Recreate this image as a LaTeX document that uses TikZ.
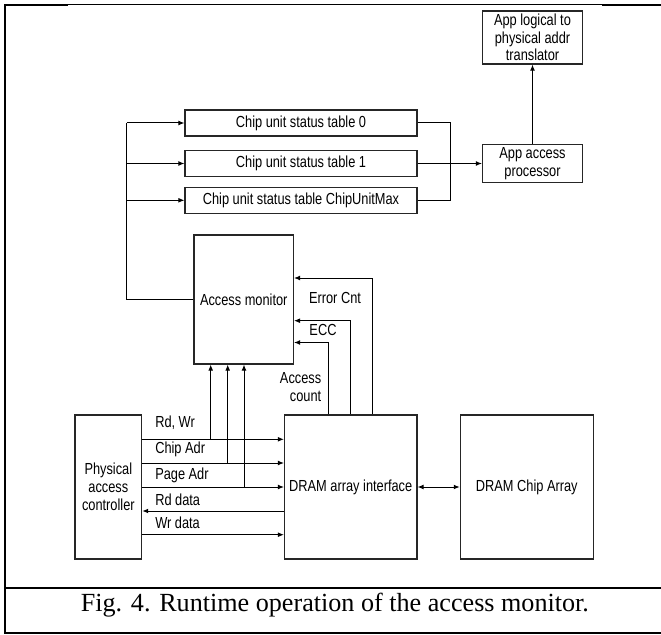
\documentclass[tikz,border=0pt]{standalone}
\usepackage{fontspec}
\setmainfont{Liberation Serif}
\newfontfamily\lblfont[FakeStretch=0.8]{Liberation Sans}
\usetikzlibrary{arrows.meta}

\begin{document}
\begin{tikzpicture}[x=0.75pt, y=-0.75pt,
  box/.style={draw=black!85, line width=0.8pt, rectangle, inner sep=0pt,
              align=center, font=\lblfont\fontsize{12}{13.3}\selectfont},
  wire/.style={draw=black, line width=0.75pt},
  arr/.style={wire, -{Latex[length=4.5pt,width=3.6pt]}},
  biarr/.style={wire, {Latex[length=4.5pt,width=3.6pt]}-{Latex[length=4.5pt,width=3.6pt]}},
  lbl/.style={inner sep=0pt, font=\lblfont\fontsize{12}{13.3}\selectfont},
  frame/.style={draw=black, line width=1.5pt},
  thinframe/.style={draw=black, line width=0.75pt}
]
\useasboundingbox (0,0) rectangle (661,635);

% outer frame and caption band
\draw[thinframe] (4.7,5) -- (661,5);
\draw[frame] (4.7,5) -- (68,5);
\draw[frame] (602,5) -- (661,5);
\draw[frame, line cap=rect] (4.7,5) -- (4.7,633) -- (661,633);
\draw[frame] (4.7,588) -- (661,588);
\node[anchor=base, inner sep=0pt, font=\fontsize{19.6}{22}\selectfont] (cap) at (334.9,611.7)
  {Fig. 4. Runtime operation of the access monitor.};

% blocks
\node[box, minimum width=75pt, minimum height=39.75pt] (trans) at (532.5,37.5)
  {App logical to\\physical addr\\translator};
\node[box, minimum width=75pt, minimum height=28.5pt] (proc) at (532.5,163.5)
  {App access\\processor};
\node[box, minimum width=174pt, minimum height=19.5pt] (t0) at (301,123) {Chip unit status table 0};
\node[box, minimum width=174pt, minimum height=19.5pt] (t1) at (301,163.5) {Chip unit status table 1};
\node[box, minimum width=174pt, minimum height=19.5pt] (tmax) at (301,200.3) {Chip unit status table ChipUnitMax};
\node[box, minimum width=74.6pt, minimum height=96.75pt] (mon) at (243.75,299.5) {Access monitor};
\node[box, minimum width=99.4pt, minimum height=108pt] (dif) at (350.75,487) {DRAM array interface};
\node[box, minimum width=99.75pt, minimum height=108pt] (chip) at (526.8,487) {DRAM Chip Array};
\node[box, minimum width=50pt, minimum height=108pt] (pac) at (108.35,487)
  {Physical\\access\\controller};

% status tables fan-out from the access monitor
\coordinate (busTop) at (126.5,123);
\draw[wire] (mon.west) -| (busTop);
\draw[arr] (busTop) -- (t0.west);
\draw[arr] (t1.west -| busTop) -- (t1.west);
\draw[arr] (tmax.west -| busTop) -- (tmax.west);

% tables merge into the access processor
\coordinate (merge) at (450,163.5);
\draw[wire] (t0.east) -| (merge);
\draw[wire] (tmax.east) -| (merge);
\draw[arr] (t1.east) -- (proc.west);
\draw[arr] (proc.north) -- (trans.south);

% feedback from the DRAM array interface
\coordinate (errc) at (372.5,278);
\coordinate (ecc) at (350.3,320.7);
\coordinate (acnt) at (328.7,342.5);
\draw[arr] (errc |- dif.north) |- (mon.east |- errc);
\draw[arr] (ecc |- dif.north) |- (mon.east |- ecc);
\draw[arr] (acnt |- dif.north) |- (mon.east |- acnt);
\node[lbl] (lerr) at (335,298) {Error Cnt};
\node[lbl] (lecc) at (323,330) {ECC};
\node[lbl, align=right, anchor=east] (lcnt) at (321.5,387) {Access\\count};

% controller to interface signals
\coordinate (s1) at (0,439.3);
\coordinate (s2) at (0,463);
\coordinate (s3) at (0,487);
\coordinate (s4) at (0,511);
\coordinate (s5) at (0,534.7);
\draw[arr] (pac.east |- s1) -- (dif.west |- s1);
\draw[arr] (pac.east |- s2) -- (dif.west |- s2);
\draw[arr] (pac.east |- s3) -- (dif.west |- s3);
\draw[arr] (dif.west |- s4) -- (pac.east |- s4);
\draw[arr] (pac.east |- s5) -- (dif.west |- s5);
\node[lbl, anchor=west] (lrw) at (155,422.7) {Rd, Wr};
\node[lbl, anchor=west] (lca) at (155,449) {Chip Adr};
\node[lbl, anchor=west] (lpa) at (155,475) {Page Adr};
\node[lbl, anchor=west] (lrd) at (155,499.3) {Rd data};
\node[lbl, anchor=west] (lwd) at (155,522.7) {Wr data};

% taps into the access monitor
\coordinate (tapA) at (210.7,439.3);
\coordinate (tapB) at (227.7,463);
\coordinate (tapC) at (244,487);
\draw[arr] (tapA) -- (tapA |- mon.south);
\draw[arr] (tapB) -- (tapB |- mon.south);
\draw[arr] (tapC) -- (tapC |- mon.south);

% interface to chip array
\draw[biarr] (dif.east) -- (chip.west);
\end{tikzpicture}
\end{document}
